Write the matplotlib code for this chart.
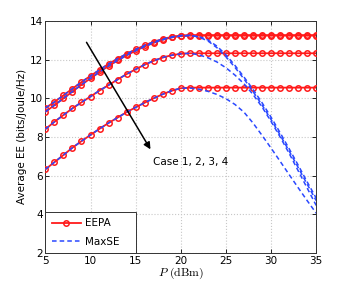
import numpy as np
import matplotlib
matplotlib.use("Agg")
import matplotlib.pyplot as plt

plt.rcParams['mathtext.fontset'] = 'cm'

# transmit power (dBm)
power = list(range(5, 36))

# EEPA curves, case 1..4
eepa_1 = [9.49, 9.81, 10.15, 10.50, 10.84, 11.16, 11.47, 11.78, 12.05, 12.30, 12.53,
          12.74, 12.92, 13.07, 13.18, 13.25, 13.27] + [13.27] * 14
eepa_2 = [9.30, 9.64, 9.99, 10.35, 10.70, 11.03, 11.36, 11.67, 11.96, 12.22, 12.46,
          12.68, 12.87, 13.03, 13.15, 13.22, 13.24] + [13.24] * 14
eepa_3 = [8.40, 8.78, 9.13, 9.48, 9.79, 10.09, 10.40, 10.68, 10.97, 11.25, 11.50,
          11.74, 11.94, 12.11, 12.23, 12.30, 12.33] + [12.33] * 14
eepa_4 = [6.32, 6.69, 7.06, 7.44, 7.78, 8.10, 8.42, 8.72, 9.00, 9.28, 9.53,
          9.77, 10.00, 10.21, 10.39, 10.52, 10.55] + [10.55] * 14

# MaxSE curves (same as EEPA before the peak, then decreasing)
maxse_1 = eepa_1[:16] + [13.26, 13.17, 12.97, 12.62, 12.15, 11.60, 11.00, 10.35,
                         9.65, 8.90, 8.10, 7.27, 6.42, 5.55, 4.70]
maxse_2 = eepa_2[:16] + [13.24, 13.20, 13.02, 12.70, 12.25, 11.70, 11.10, 10.46,
                         9.77, 9.02, 8.22, 7.39, 6.54, 5.67, 4.83]
maxse_3 = eepa_3[:16] + [12.33, 12.25, 12.10, 11.88, 11.58, 11.20, 10.75, 10.20,
                         9.55, 8.80, 8.00, 7.15, 6.25, 5.35, 4.45]
maxse_4 = eepa_4[:16] + [10.53, 10.47, 10.36, 10.20, 9.98, 9.68, 9.28, 8.72,
                         8.08, 7.42, 6.74, 6.05, 5.37, 4.70, 4.05]

fig = plt.figure(figsize=(3.49, 2.84), dpi=100)
ax = fig.add_axes([0.13, 0.11, 0.776, 0.816])

red = '#ff1a1a'
blue = '#2a48ff'
for i, y in enumerate([eepa_1, eepa_2, eepa_3, eepa_4]):
    ax.plot(power, y, color=red, lw=1.3, marker='o', ms=3.9, mfc='none', mew=1.1,
            label='EEPA' if i == 0 else None, zorder=3)
for i, y in enumerate([maxse_1, maxse_2, maxse_3, maxse_4]):
    ax.plot(power, y, color=blue, lw=1.1, ls=(0, (3, 2)),
            label='MaxSE' if i == 0 else None, zorder=4)

ax.set_xlim(5, 35)
ax.set_ylim(2, 14)
ax.set_xticks(range(5, 36, 5))
ax.set_yticks(range(2, 15, 2))
ax.grid(True, color='#c8c8c8', ls=':', lw=0.8)
ax.tick_params(direction='in', top=True, right=True, labelsize=7.5, length=3,
               width=0.6, pad=2)
for s in ax.spines.values():
    s.set_linewidth(0.7)
    s.set_color('#333333')

ax.set_xlabel(r'$P\ (\mathrm{dBm})$', fontsize=8.5, labelpad=0)
ax.set_ylabel('Average EE (bits/Joule/Hz)', fontsize=7.5, labelpad=2)

ax.annotate('', xy=(16.8, 7.23), xytext=(9.4, 13.02),
            arrowprops=dict(arrowstyle='-|>', color='black', lw=1.1,
                            mutation_scale=10), zorder=5)
ax.text(16.9, 6.7, 'Case 1, 2, 3, 4', fontsize=7.5, va='center', ha='left')

leg = ax.legend(loc='lower left', bbox_to_anchor=(0, 0, 1 / 3, 1 / 6),
                mode='expand', fontsize=7.5, frameon=True, fancybox=False,
                framealpha=1, edgecolor='#333333', borderaxespad=0,
                handlelength=2.8, handletextpad=0.4, borderpad=0.6,
                labelspacing=0.8)
leg.get_frame().set_linewidth(0.7)

fig.savefig('out.png', dpi=100)
